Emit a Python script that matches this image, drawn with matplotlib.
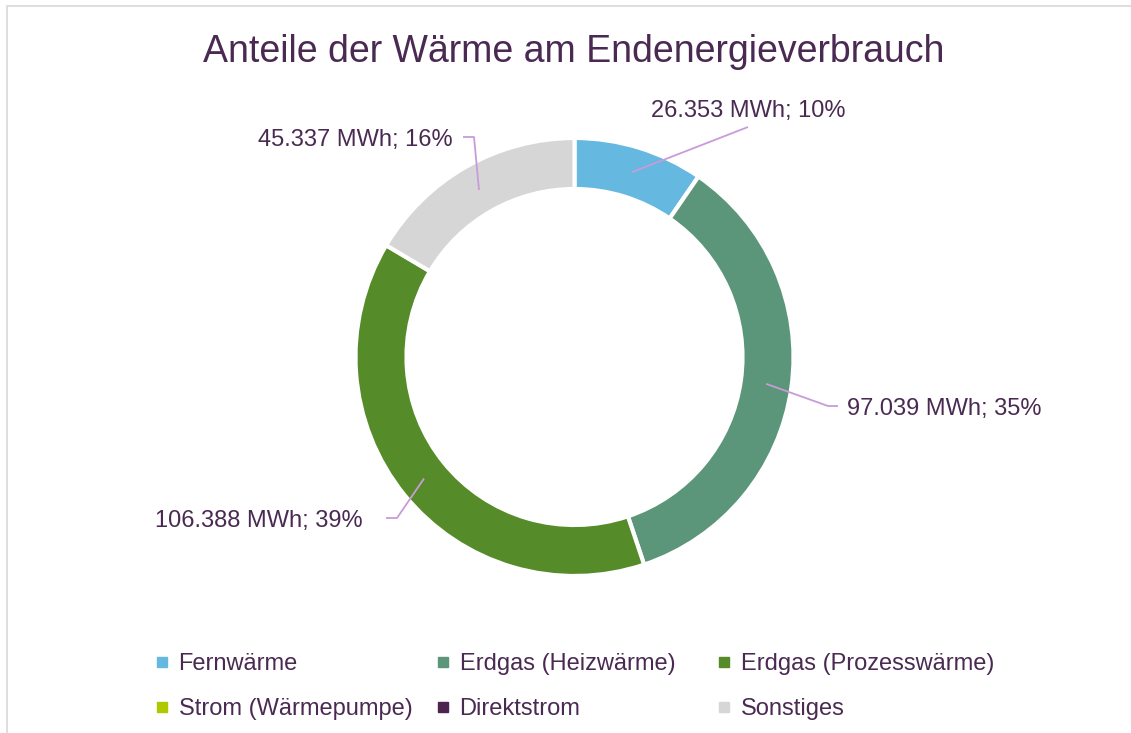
import matplotlib.pyplot as plt
import numpy as np
from matplotlib.lines import Line2D
from matplotlib.patches import Rectangle

plt.rcParams['font.family'] = ['Liberation Sans', 'DejaVu Sans']

title = "Anteile der Wärme am Endenergieverbrauch"
categories = ["Fernwärme", "Erdgas (Heizwärme)", "Erdgas (Prozesswärme)",
              "Strom (Wärmepumpe)", "Direktstrom", "Sonstiges"]
values = [26353, 97039, 106388, 0, 0, 45337]
colors = ["#65B8DF", "#5C967A", "#568B2A", "#AFC800", "#4B2550", "#D6D6D6"]

txt_col = "#4A2A52"
line_col = "#C79CD9"

W, H = 1131, 733
fig = plt.figure(figsize=(W / 100, H / 100), dpi=100)
ax = fig.add_axes([0, 0, 1, 1])

def py(y):
    # pixel y (from top) -> data y
    return H - y

# frame (cropped on the right and bottom like the screenshot)
fig.patches.append(Rectangle((6.5 / W, -0.1), 1.2, (H - 5.5) / H + 0.1,
                             transform=fig.transFigure, fill=False,
                             edgecolor="#D9D9D9", linewidth=1.2))

cx, cy, r_out, ring = 574.5, py(357), 219, 51
nz = [i for i, v in enumerate(values) if v > 0]
wedges, _ = ax.pie([values[i] for i in nz], colors=[colors[i] for i in nz],
                   startangle=90, counterclock=False, center=(cx, cy),
                   radius=r_out, frame=True,
                   wedgeprops=dict(width=ring, edgecolor="white", linewidth=3))
ax.set_xlim(0, W)
ax.set_ylim(0, H)
ax.set_aspect('equal')
ax.axis('off')

total = sum(values)
# label text position (pixels), alignment, leader path between anchor and text
label_pos = {
    0: ((748, 117), 'center', [(748, 127)]),
    1: ((847, 415), 'left', [(828, 406), (838, 406)]),
    2: ((363, 527), 'right', [(397, 518), (386, 518)]),
    5: ((453, 146), 'right', [(479, 190), (474, 137), (463, 137)]),
}
for w, i in zip(wedges, nz):
    ang = np.deg2rad((w.theta1 + w.theta2) / 2)
    rm = r_out - ring / 2
    ax_x, ax_y = cx + rm * np.cos(ang), cy + rm * np.sin(ang)
    (tx, ty), ha, path = label_pos[i]
    if i == 5:
        pts = path
    else:
        pts = [(ax_x, H - ax_y)] + path
    ax.plot([p[0] for p in pts], [py(p[1]) for p in pts], color=line_col, lw=1.3,
            solid_capstyle='butt')
    pct = round(values[i] / total * 100)
    lab = f"{values[i] / 1000:.3f} MWh; {pct}%"
    ax.text(tx, py(ty), lab, ha=ha, va='baseline', fontsize=17, color=txt_col)

fig.text(573.5 / W, py(62) / H, title, ha='center', va='baseline',
         fontsize=27, color=txt_col)

handles = [Line2D([], [], marker='s', linestyle='none', markersize=6.5,
                  markerfacecolor=c, markeredgecolor=c) for c in colors]
col_x = [155, 436, 717]
groups = [(0, 3), (1, 4), (2, 5)]
for x0, g in zip(col_x, groups):
    leg = fig.legend([handles[k] for k in g], [categories[k] for k in g],
                     loc='upper left', bbox_to_anchor=(x0 / W, py(653) / H),
                     frameon=False, fontsize=17, handlelength=0.6,
                     handletextpad=0.4, labelspacing=0.97, borderpad=0,
                     borderaxespad=0)
    for t in leg.get_texts():
        t.set_color(txt_col)

fig.savefig("out.png", dpi=100)
